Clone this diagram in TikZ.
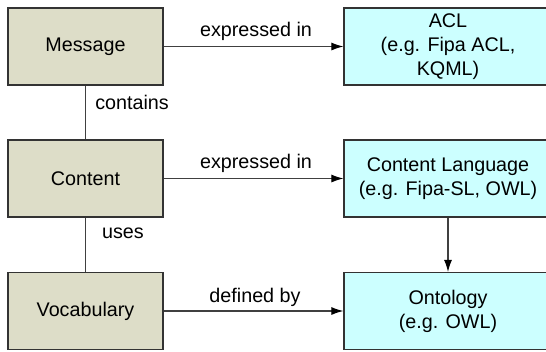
\documentclass[tikz,border=0pt]{standalone}
\usepackage{fontspec}
\setmainfont{Liberation Sans}
\usetikzlibrary{arrows.meta}
\definecolor{leftfill}{HTML}{DDDDC8}
\definecolor{rightfill}{HTML}{CCFFFF}
\definecolor{border}{HTML}{333333}
\definecolor{conn}{HTML}{404040}
\tikzset{
  leftbox/.style={draw=border, line width=0.9pt, fill=leftfill, minimum width=116.25pt, minimum height=57.75pt, inner sep=0pt, align=center, font=\fontsize{14.8}{18}\selectfont},
  rightbox/.style={draw=border, line width=0.9pt, fill=rightfill, minimum width=156pt, minimum height=57.75pt, inner sep=0pt, align=center, font=\fontsize{14.8}{18}\selectfont},
  link/.style={draw=conn, line width=0.8pt},
  arr/.style={link, -{Latex[length=9pt,width=6pt,color=black]}},
  lbl/.style={font=\fontsize{14.8}{18}\selectfont, inner sep=0pt}
}
\begin{document}
\begin{tikzpicture}[x=0.75pt,y=-0.75pt]
\useasboundingbox (0,0) rectangle (546,351);
\node[leftbox] (msg) at (85.5,46.5) {Message};
\node[leftbox] (cnt) at (85.5,178.5) {Content};
\node[leftbox] (voc) at (85.5,311) {Vocabulary};
\node[rightbox] (acl) at (448,46.5) {ACL\\(e.g. Fipa ACL,\\KQML)};
\node[rightbox] (cl) at (448,178.5) {Content Language\\(e.g. Fipa-SL, OWL)};
\node[rightbox] (ont) at (448,311) {Ontology\\(e.g. OWL)};
\draw[arr] (msg.east) -- (acl.west);
\draw[arr] (cnt.east) -- (cl.west);
\draw[arr] (voc.east) -- (ont.west);
\draw[link] (msg.south) -- (cnt.north);
\draw[link] (cnt.south) -- (voc.north);
\draw[arr] (cl.south) -- (ont.north);
\node[lbl] (l1) at (256,31) {expressed in};
\node[lbl] (l2) at (256,163) {expressed in};
\node[lbl] (l3) at (255,297) {defined by};
\node[lbl] (l4) at (132,102) {contains};
\node[lbl] (l5) at (123,233) {uses};
\end{tikzpicture}
\end{document}
